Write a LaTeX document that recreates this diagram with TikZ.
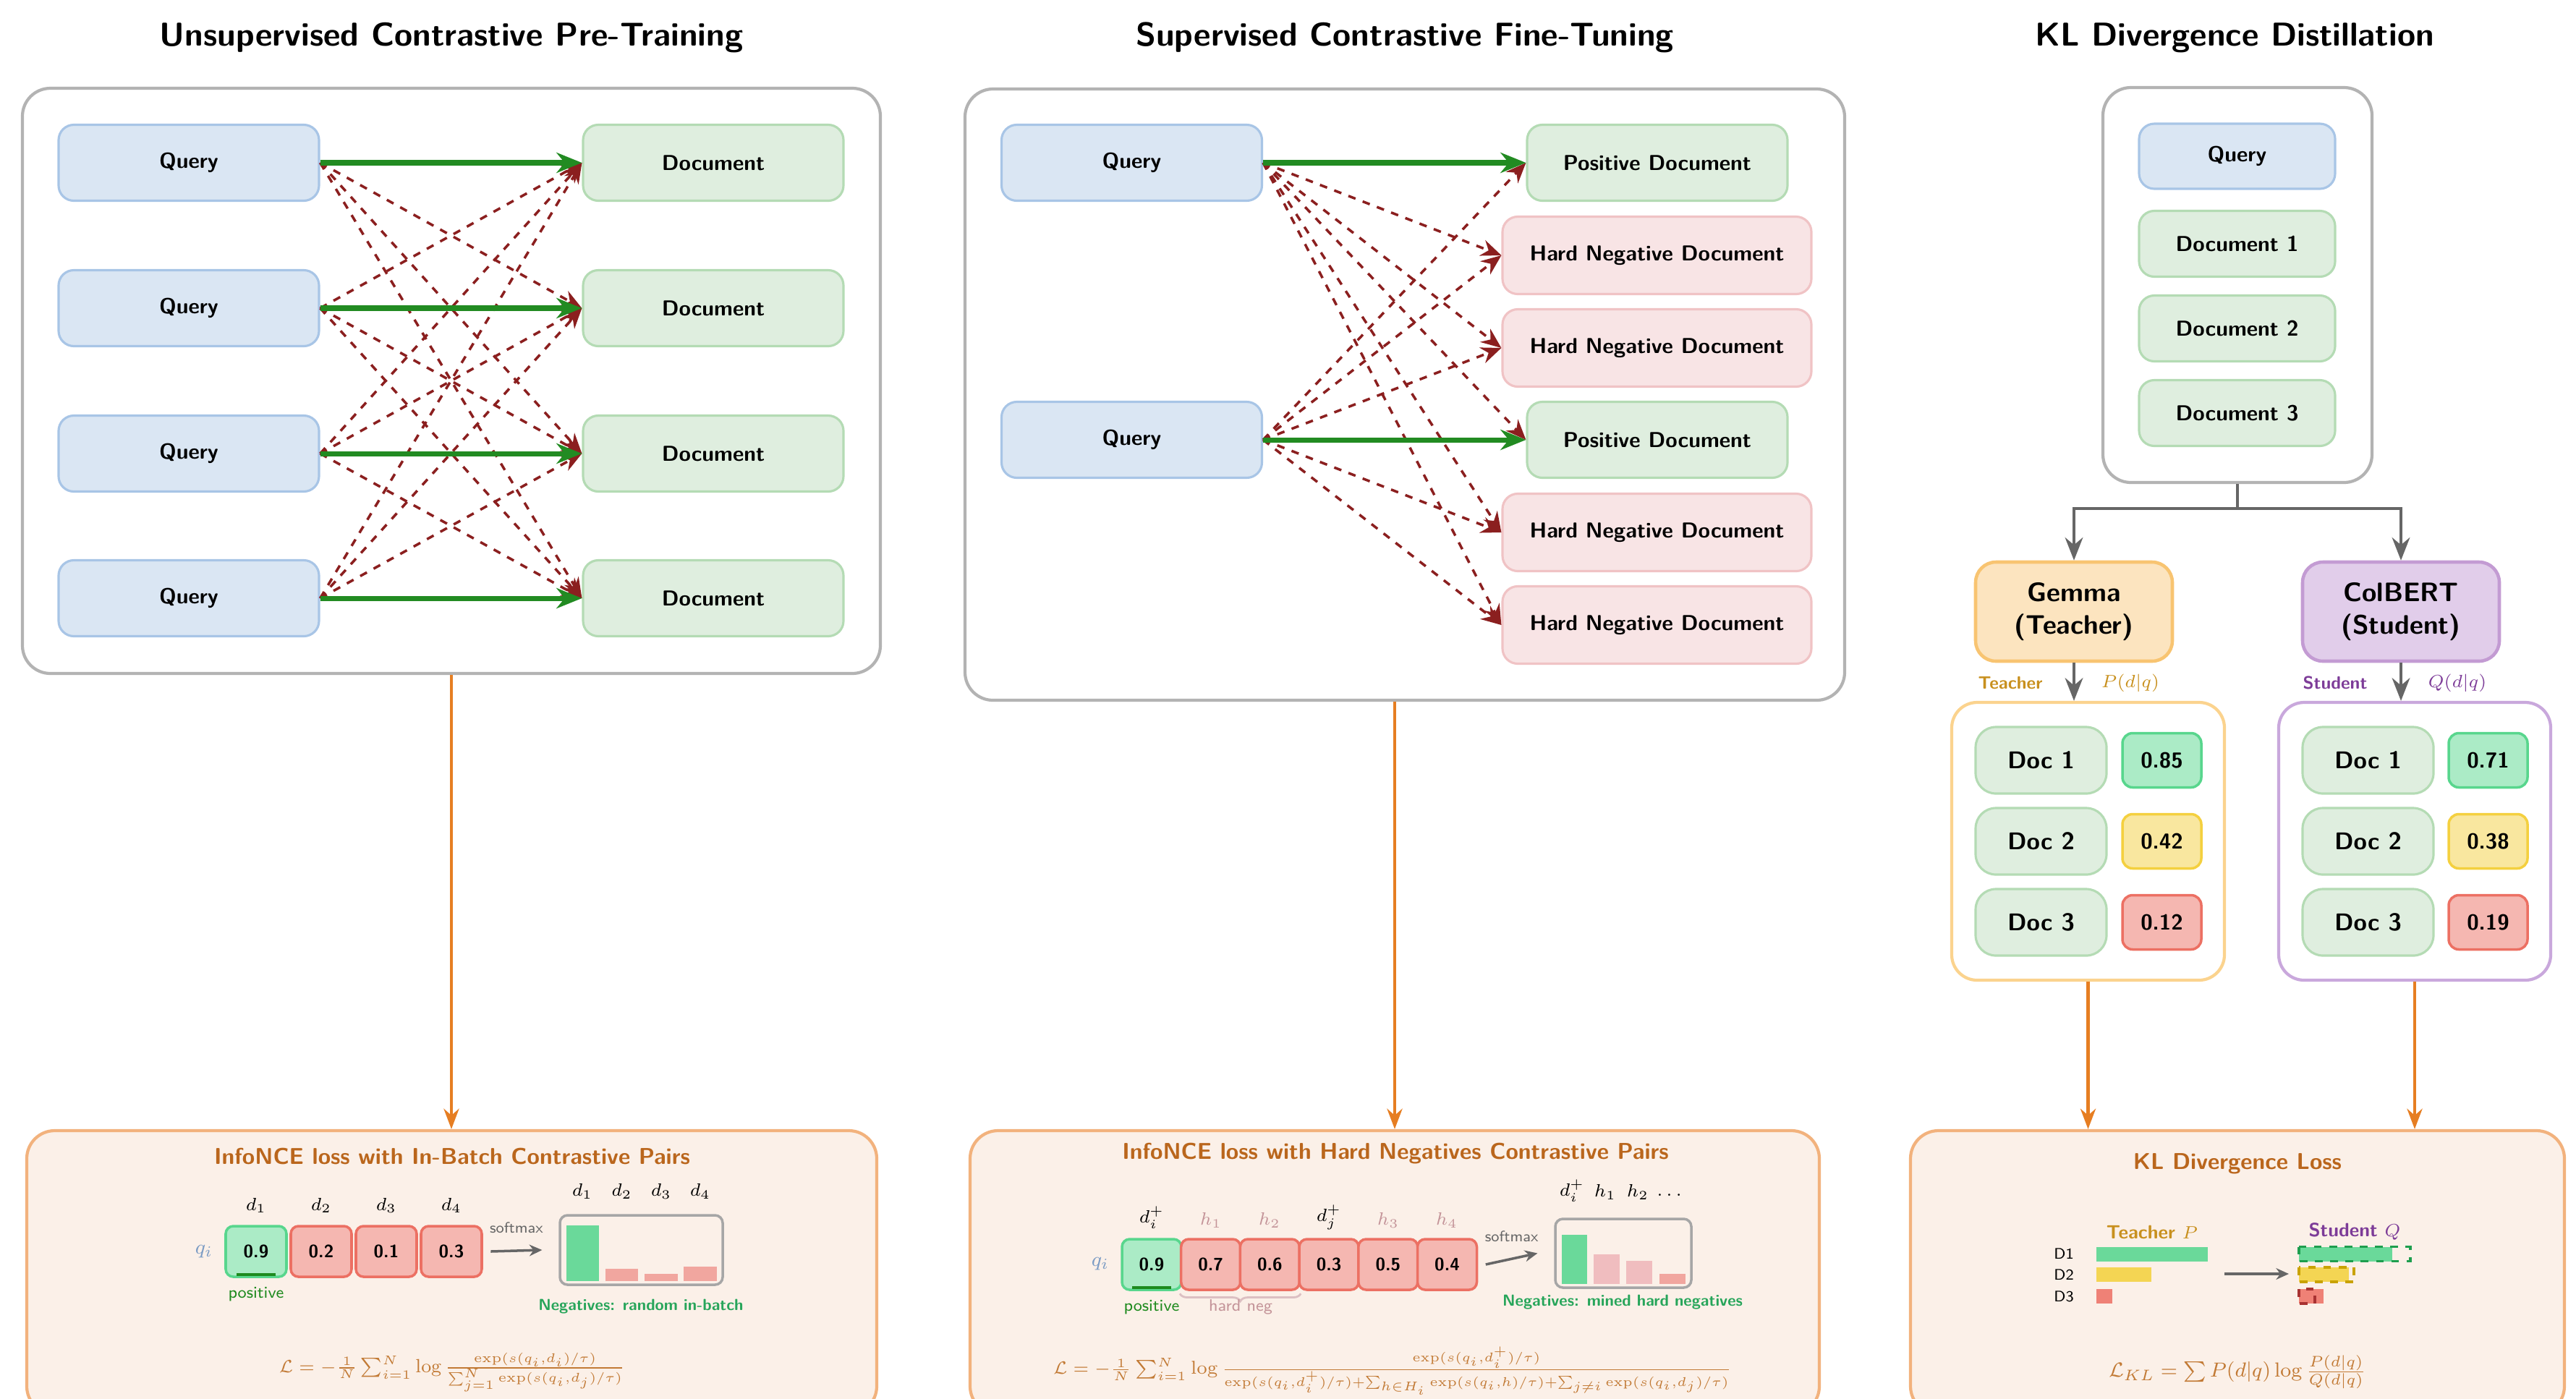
\documentclass[tikz,border=0pt]{standalone}
\usepackage{fontspec}
\usepackage{amsmath,amssymb}
\usepackage{xcolor}
\usepackage{tikz}
\usetikzlibrary{arrows.meta,calc,positioning,decorations.pathreplacing}
\renewcommand{\familydefault}{\sfdefault}

\definecolor{qfill}{HTML}{DAE6F3}\definecolor{qline}{HTML}{A8C5E6}
\definecolor{dfill}{HTML}{DFEEDF}\definecolor{dline}{HTML}{B4DBB4}
\definecolor{hfill}{HTML}{F8E4E5}\definecolor{hline}{HTML}{F0C3C5}
\definecolor{framegray}{HTML}{B3B3B3}
\definecolor{posgreen}{HTML}{228B22}
\definecolor{negred}{HTML}{8B1F1F}
\definecolor{floworange}{HTML}{E67E22}
\definecolor{lossfill}{HTML}{FBF0E8}\definecolor{lossline}{HTML}{F2B27D}
\definecolor{losstext}{HTML}{BA661C}\definecolor{formcol}{HTML}{C27A35}
\definecolor{fillg}{HTML}{ABEBC6}\definecolor{lineg}{HTML}{58D68D}
\definecolor{fillr}{HTML}{F5B7B1}\definecolor{liner}{HTML}{EC7063}
\definecolor{filly}{HTML}{F9E79F}\definecolor{liney}{HTML}{F4D03F}
\definecolor{bargreen}{HTML}{6AD99A}\definecolor{barred}{HTML}{F1A69F}
\definecolor{barpink}{HTML}{F0BDBF}\definecolor{baryellow}{HTML}{F4D553}
\definecolor{barcoral}{HTML}{EF8176}
\definecolor{negtext}{HTML}{27A55A}\definecolor{posdark}{HTML}{1E8A1E}
\definecolor{qtext}{HTML}{7C9CC4}\definecolor{hardneg}{HTML}{C49499}
\definecolor{gemfill}{HTML}{FCE4BF}\definecolor{gemline}{HTML}{F8C471}
\definecolor{colfill}{HTML}{E1CDEA}\definecolor{colline}{HTML}{C39BD3}
\definecolor{tline}{HTML}{FBD38E}\definecolor{sline}{HTML}{C9A8DC}
\definecolor{teachcol}{HTML}{C8901E}\definecolor{studcol}{HTML}{7D3C98}
\definecolor{arrowgray}{HTML}{666666}\definecolor{chartline}{HTML}{A6A6A6}
\definecolor{dashg}{HTML}{1E9E4E}\definecolor{dashy}{HTML}{C9A200}\definecolor{dashr}{HTML}{A83232}

\begin{document}
\begin{tikzpicture}[
  title/.style={font=\fontsize{13}{15}\selectfont\bfseries},
  box/.style={rounded corners=6pt, line width=0.9pt, align=center, font=\fontsize{8.5}{10}\selectfont\bfseries},
  qbox/.style={box, draw=qline, fill=qfill, minimum width=3.6cm, minimum height=1.05cm},
  dbox/.style={box, draw=dline, fill=dfill, minimum width=3.6cm, minimum height=1.05cm},
  hbox/.style={box, draw=hline, fill=hfill, minimum width=4.27cm, minimum height=1.07cm},
  frame/.style={draw=framegray, line width=1.2pt, rounded corners=11pt},
  lossbox/.style={draw=lossline, fill=lossfill, line width=1.2pt, rounded corners=11pt},
  losstitle/.style={font=\fontsize{9}{11}\selectfont\bfseries, text=losstext},
  formula/.style={font=\fontsize{7.5}{9}\selectfont, text=formcol},
  posarrow/.style={-{Stealth[length=10pt,width=8pt]}, line width=2pt, draw=posgreen},
  negarrow/.style={-{Stealth[length=8pt,width=6.5pt]}, line width=1pt, draw=negred, dashed},
  flow/.style={-{Stealth[length=8pt,width=6pt]}, line width=1.3pt, draw=floworange},
  darrow/.style={-{Stealth[length=9pt,width=7pt]}, line width=1.3pt, draw=arrowgray},
  smarrow/.style={-{Stealth[length=5pt,width=4.5pt]}, line width=1pt, draw=arrowgray},
  cell/.style={rounded corners=3pt, line width=1pt, minimum width=0.82cm, minimum height=0.7cm, font=\fontsize{7}{8}\selectfont\bfseries},
  gcell/.style={cell, fill=fillg, draw=lineg},
  rcell/.style={cell, fill=fillr, draw=liner},
  chart/.style={draw=chartline, line width=1pt, rounded corners=3pt},
  lbl/.style={font=\fontsize{7}{8}\selectfont, inner sep=0.5pt},
  smalltxt/.style={font=\fontsize{6}{7}\selectfont},
  neglbl/.style={font=\fontsize{6.3}{7}\selectfont\bfseries, text=negtext},
  docsm/.style={box, draw=dline, fill=dfill, minimum width=1.81cm, minimum height=0.92cm, rounded corners=8pt, font=\fontsize{9.5}{11}\selectfont\bfseries},
  score/.style={rounded corners=4pt, line width=1pt, minimum width=1.09cm, minimum height=0.75cm, font=\fontsize{8.5}{10}\selectfont\bfseries},
  model/.style={box, line width=1.3pt, rounded corners=8pt, minimum width=2.72cm, minimum height=1.37cm, font=\fontsize{10.5}{13}\selectfont\bfseries}
]
\useasboundingbox (0,0) rectangle (35.61,-19.33);

% ---------- unsupervised pre-training ----------
\node[title] at (6.24,-0.52) {Unsupervised Contrastive Pre-Training};
\node[frame, minimum width=11.86cm, minimum height=8.09cm] (lframe) at (6.24,-5.265) {};
\foreach \i/\y in {1/2.25,2/4.26,3/6.27,4/8.27}{
  \node[qbox] (lq\i) at (2.61,-\y) {Query};
  \node[dbox] (ld\i) at (9.86,-\y) {Document};
}
\foreach \i in {1,...,4}{\foreach \j in {1,...,4}{\ifnum\i=\j\else\draw[negarrow] (lq\i.east) -- (ld\j.west);\fi}}
\foreach \i in {1,...,4}{\draw[posarrow] (lq\i.east) -- (ld\i.west);}

% ---------- supervised fine-tuning ----------
\node[title] at (19.42,-0.52) {Supervised Contrastive Fine-Tuning};
\node[frame, minimum width=12.16cm, minimum height=8.45cm] (mframe) at (19.42,-5.455) {};
\node[qbox] (mq1) at (15.645,-2.25) {Query};
\node[qbox] (mq2) at (15.645,-6.08) {Query};
\node[dbox] (md1) at (22.91,-2.25) {Positive Document};
\node[hbox] (md2) at (22.905,-3.53) {Hard Negative Document};
\node[hbox] (md3) at (22.905,-4.81) {Hard Negative Document};
\node[dbox] (md4) at (22.91,-6.08) {Positive Document};
\node[hbox] (md5) at (22.905,-7.36) {Hard Negative Document};
\node[hbox] (md6) at (22.905,-8.64) {Hard Negative Document};
\foreach \j in {2,3,4,5,6}{\draw[negarrow] (mq1.east) -- (md\j.west);}
\foreach \j in {1,2,3,5,6}{\draw[negarrow] (mq2.east) -- (md\j.west);}
\draw[posarrow] (mq1.east) -- (md1.west);
\draw[posarrow] (mq2.east) -- (md4.west);

% ---------- KL distillation ----------
\node[title] at (30.89,-0.52) {KL Divergence Distillation};
\node[frame, minimum width=3.72cm, minimum height=5.46cm] (rframe) at (30.93,-3.94) {};
\node[qbox, minimum width=2.71cm, minimum height=0.9cm] (rq) at (30.925,-2.16) {Query};
\foreach \k/\y in {1/3.37,2/4.54,3/5.71}{
  \node[dbox, minimum width=2.71cm, minimum height=0.91cm] (rd\k) at (30.925,-\y) {Document \k};
}
\node[model, draw=gemline, fill=gemfill] (gemma) at (28.67,-8.455) {Gemma\\(Teacher)};
\node[model, draw=colline, fill=colfill] (colbert) at (33.19,-8.455) {ColBERT\\(Student)};
\draw[darrow] (rframe.south) -- ++(0,-0.34) -| (gemma.north);
\draw[darrow] (rframe.south) -- ++(0,-0.34) -| (colbert.north);
\node[draw=tline, line width=1.2pt, rounded corners=10pt, minimum width=3.77cm, minimum height=3.84cm] (tbox) at (28.865,-11.63) {};
\node[draw=sline, line width=1.2pt, rounded corners=10pt, minimum width=3.76cm, minimum height=3.84cm] (sbox) at (33.38,-11.63) {};
\draw[darrow] (gemma.south) -- (gemma.south |- tbox.north);
\draw[darrow] (colbert.south) -- (colbert.south |- sbox.north);
\node[font=\fontsize{7}{8}\selectfont\bfseries, text=teachcol] at (27.79,-9.44) {Teacher};
\node[font=\fontsize{7.5}{8}\selectfont, text=teachcol] at (29.45,-9.44) {$P(d|q)$};
\node[font=\fontsize{7}{8}\selectfont\bfseries, text=studcol] at (32.28,-9.44) {Student};
\node[font=\fontsize{7.5}{8}\selectfont, text=studcol] at (33.97,-9.44) {$Q(d|q)$};
\foreach \r/\y/\tv/\sv/\c in {1/10.51/0.85/0.71/g,2/11.63/0.42/0.38/y,3/12.75/0.12/0.19/r}{
  \node[docsm] (td\r) at (28.215,-\y) {Doc \r};
  \node[score, fill=fill\c, draw=line\c] (ts\r) at (29.885,-\y) {\tv};
  \node[docsm] (sd\r) at (32.735,-\y) {Doc \r};
  \node[score, fill=fill\c, draw=line\c] (ss\r) at (34.395,-\y) {\sv};
}

% ---------- loss panels ----------
\node[lossbox, minimum width=11.75cm, minimum height=3.92cm] (lloss) at (6.245,-17.59) {};
\node[lossbox, minimum width=11.74cm, minimum height=3.92cm] (mloss) at (19.28,-17.59) {};
\node[lossbox, minimum width=9.04cm, minimum height=3.92cm] (rloss) at (30.93,-17.59) {};
\draw[flow] (lframe.south) -- (lframe.south |- lloss.north);
\draw[flow] (mloss.north |- mframe.south) -- (mloss.north);
\draw[flow] (tbox.south) -- (tbox.south |- rloss.north);
\draw[flow] (sbox.south) -- (sbox.south |- rloss.north);

% in-batch
\node[losstitle] at (6.25,-15.98) {InfoNCE loss with In-Batch Contrastive Pairs};
\node[lbl, text=qtext, font=\fontsize{8}{9}\selectfont] at (2.82,-17.30) {$q_i$};
\node[gcell, minimum width=0.84cm] (lc1) at (3.54,-17.30) {0.9};
\foreach \v/\k in {0.2/2,0.1/3,0.3/4}{\node[rcell, minimum width=0.84cm] (lc\k) at ({3.54+0.9*(\k-1)},-17.30) {\v};}
\foreach \k in {1,...,4}{\node[lbl, above=4pt of lc\k] {$d_\k$};}
\fill[posdark] ($(lc1.south)+(-0.27,0.03)$) rectangle ($(lc1.south)+(0.27,0.07)$);
\node[smalltxt, text=posdark, font=\fontsize{6.5}{7}\selectfont, below=0pt of lc1] {positive};
\node[chart, minimum width=2.25cm, minimum height=0.96cm] (lchart) at (8.865,-17.28) {};
\draw[smarrow] ([xshift=3pt]lc4.east) -- ([xshift=-6.5pt]lchart.west) node[midway, above=3pt, smalltxt, text=arrowgray] {softmax};
\fill[bargreen] (7.83,-17.71) rectangle (8.28,-16.94);
\fill[barred] (8.37,-17.71) rectangle (8.82,-17.54);
\fill[barred] (8.91,-17.71) rectangle (9.37,-17.61);
\fill[barred] (9.45,-17.71) rectangle (9.91,-17.51);
\foreach \x/\k in {8.05/1,8.595/2,9.14/3,9.68/4}{\node[lbl] at (\x,-16.47) {$d_\k$};}
\node[neglbl] at (8.86,-18.06) {Negatives: random in-batch};
\node[formula] at (6.25,-18.97) {$\mathcal{L}=-\frac{1}{N}\sum_{i=1}^{N}\log\frac{\exp(s(q_i,d_i)/\tau)}{\sum_{j=1}^{N}\exp(s(q_i,d_j)/\tau)}$};

% hard negatives
\node[losstitle] at (19.29,-15.95) {InfoNCE loss with Hard Negatives Contrastive Pairs};
\node[lbl, text=qtext, font=\fontsize{8}{9}\selectfont] at (15.21,-17.47) {$q_i$};
\node[gcell] (mc1) at (15.92,-17.48) {0.9};
\foreach \v/\k in {0.7/2,0.6/3,0.3/4,0.5/5,0.4/6}{\node[rcell] (mc\k) at ({15.92+0.817*(\k-1)},-17.48) {\v};}
\node[lbl] at (15.92,-16.83) {$d_i^+$};
\node[lbl, text=hardneg] at (16.74,-16.87) {$h_1$};
\node[lbl, text=hardneg] at (17.55,-16.87) {$h_2$};
\node[lbl] at (18.37,-16.83) {$d_j^+$};
\node[lbl, text=hardneg] at (19.19,-16.87) {$h_3$};
\node[lbl, text=hardneg] at (20.00,-16.87) {$h_4$};
\fill[posdark] ($(mc1.south)+(-0.27,0.03)$) rectangle ($(mc1.south)+(0.27,0.07)$);
\node[smalltxt, text=posdark, font=\fontsize{6.5}{7}\selectfont, below=0pt of mc1] {positive};
\draw[hardneg!60, line width=0.8pt, decorate, decoration={brace, amplitude=3pt}] ([yshift=-1pt]mc3.south east) -- ([yshift=-1pt]mc2.south west);
\node[smalltxt, text=hardneg, font=\fontsize{6.5}{7}\selectfont] at (17.15,-18.07) {hard neg};
\node[chart, minimum width=1.88cm, minimum height=0.95cm] (mchart) at (22.44,-17.325) {};
\draw[smarrow] ([xshift=3pt]mc6.east) -- ([xshift=-6.5pt]mchart.west) node[midway, above=3pt, smalltxt, text=arrowgray] {softmax};
\fill[bargreen] (21.59,-17.75) rectangle (21.94,-17.07);
\fill[barpink] (22.03,-17.75) rectangle (22.39,-17.34);
\fill[barpink] (22.48,-17.75) rectangle (22.84,-17.43);
\fill[barred] (22.94,-17.75) rectangle (23.30,-17.61);
\node[lbl] at (21.73,-16.46) {$d_i^+$};
\node[lbl] at (22.19,-16.48) {$h_1$};
\node[lbl] at (22.64,-16.48) {$h_2$};
\node[lbl] at (23.10,-16.52) {$\dots$};
\node[neglbl] at (22.43,-18.00) {Negatives: mined hard negatives};
\node[formula, font=\fontsize{7.3}{9}\selectfont] at (19.25,-18.95) {$\mathcal{L}=-\frac{1}{N}\sum_{i=1}^{N}\log\frac{\exp(s(q_i,d_i^+)/\tau)}{\exp(s(q_i,d_i^+)/\tau)+\sum_{h\in H_i}\exp(s(q_i,h)/\tau)+\sum_{j\neq i}\exp(s(q_i,d_j)/\tau)}$};

% KL loss
\node[losstitle] at (30.93,-16.09) {KL Divergence Loss};
\node[font=\fontsize{7.5}{9}\selectfont\bfseries, text=teachcol] at (29.75,-17.03) {Teacher $P$};
\node[font=\fontsize{7.5}{9}\selectfont\bfseries, text=studcol] at (32.55,-17.02) {Student $Q$};
\foreach \k/\y/\t/\s/\c/\d in {1/17.335/0.85/0.71/bargreen/dashg,2/17.62/0.42/0.38/baryellow/dashy,3/17.92/0.12/0.19/barcoral/dashr}{
  \node[smalltxt] at (28.53,-\y) {D\k};
  \fill[\c] (28.98,{-\y+0.1}) rectangle ({28.98+1.81*\t},{-\y-0.1});
  \fill[\c] (31.78,{-\y+0.1}) rectangle ({31.78+1.81*\s},{-\y-0.1});
  \draw[\d, line width=1pt, dashed] (31.78,{-\y+0.1}) rectangle ({31.78+1.81*\t},{-\y-0.1});
}
\coordinate (kla) at (30.75,-17.61);
\coordinate (klb) at (31.64,-17.61);
\draw[smarrow] (kla) -- (klb);
\node[formula, font=\fontsize{8}{9}\selectfont] at (30.93,-18.97) {$\mathcal{L}_{KL}=\sum P(d|q)\log\frac{P(d|q)}{Q(d|q)}$};
\end{tikzpicture}
\end{document}
